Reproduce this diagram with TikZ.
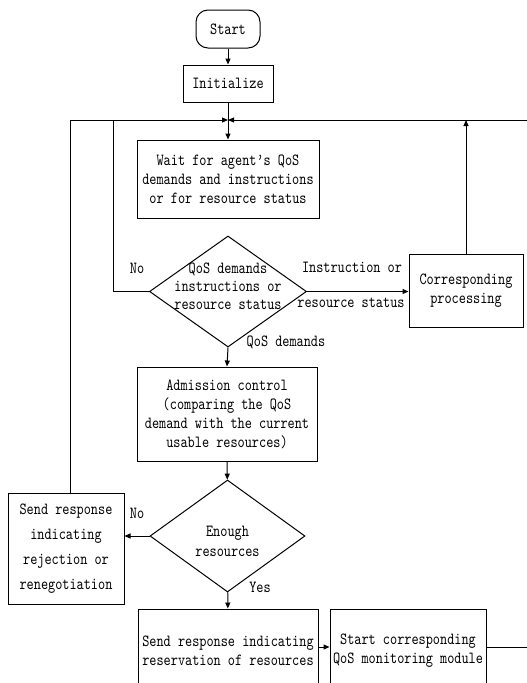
\documentclass[tikz,border=0pt]{standalone}
\usepackage{fontspec}
\setmonofont[FakeStretch=0.8]{lmmono10-regular.otf}
\usetikzlibrary{shapes.geometric,arrows.meta,calc}

\begin{document}
\begin{tikzpicture}[x=1pt,y=-1pt,
  every node/.style={font=\ttfamily\fontsize{17}{19}\selectfont, inner sep=0pt},
  box/.style={draw, line width=1pt, rectangle, align=center},
  dia/.style={draw, line width=1pt, diamond, inner sep=0pt},
  flow/.style={line width=1pt, -{Triangle[length=6pt,width=5pt]}},
  link/.style={line width=1pt},
  lbl/.style={align=center}]
\fill[white] (0,0) rectangle (527,683);
\useasboundingbox (0,0) rectangle (527,683);
\clip (0,0) rectangle (527,683);

% process steps
\node[box, rounded corners=12pt, minimum width=64pt, minimum height=38pt] (start) at (228,29) {Start};
\node[box, minimum width=90pt, minimum height=37pt] (init) at (228,83.5) {Initialize};
\coordinate (merge) at (228,120);
\node[box, minimum width=182pt, minimum height=78pt] (wait) at (228,179)
  {Wait for agent’s QoS\\demands and instructions\\or for resource status};
\node[dia, minimum width=157pt, minimum height=111pt] (q1) at (228,291.5) {};
\node[lbl, font=\ttfamily\fontsize{17}{18}\selectfont] (q1t) at (228,286)
  {QoS demands\\instructions or\\resource status};
\node[box, minimum width=114pt, minimum height=73pt] (proc) at (466,290.5)
  {Corresponding\\processing};
\node[box, minimum width=180pt, minimum height=94pt] (adm) at (227,414)
  {Admission control\\(comparing the QoS\\demand with the current\\usable resources)};
\node[dia, minimum width=155pt, minimum height=112pt] (q2) at (227.5,536) {};
\node[lbl, font=\ttfamily\fontsize{17}{20}\selectfont] (q2t) at (227.5,541) {Enough\\resources};
\node[box, minimum width=116pt, minimum height=111pt, font=\ttfamily\fontsize{17}{25}\selectfont] (rej) at (66,548.5)
  {Send response\\indicating\\rejection or\\renegotiation};
\node[box, minimum width=180pt, minimum height=84pt] (res) at (228,651)
  {Send response indicating\\reservation of resources};
\node[box, minimum width=156pt, minimum height=84pt] (mon) at (408,651)
  {Start corresponding\\QoS monitoring module};

% branch labels
\node (no1) at (137,268) {No};
\node (ins) at (352,267) {Instruction or};
\node (rst) at (351,303) {resource status};
\node (qd) at (286,342) {QoS demands};
\node (no2) at (137,513) {No};
\node (yes) at (260,587) {Yes};

% connectors
\coordinate (lx) at (70,120);
\coordinate (nx) at (113,120);
\coordinate (rx) at (535,120);
\coordinate (ox) at (535,647);
\draw[flow] (start) -- (init);
\draw[flow] (init) -- (wait);
\draw[flow] (rej.north -| lx) -- (lx) -- (merge);
\draw[link] (q1.west) -| (nx);
\draw[flow] (rx) -- (merge);
\draw[flow] (q1.east) -- (q1.east -| proc.west);
\draw[flow] (proc.north) -- (proc.north |- merge);
\draw[flow] (q1.south) -- (adm.north);
\draw[flow] (adm) -- (q2);
\draw[flow] (q2.west) -- (q2.west -| rej.east);
\draw[flow] (q2) -- (res);
\draw[flow] ([yshift=4pt]res.east) -- ([yshift=4pt]mon.west);
\draw[link] ([yshift=4pt]mon.east) -- (ox);
\end{tikzpicture}
\end{document}
